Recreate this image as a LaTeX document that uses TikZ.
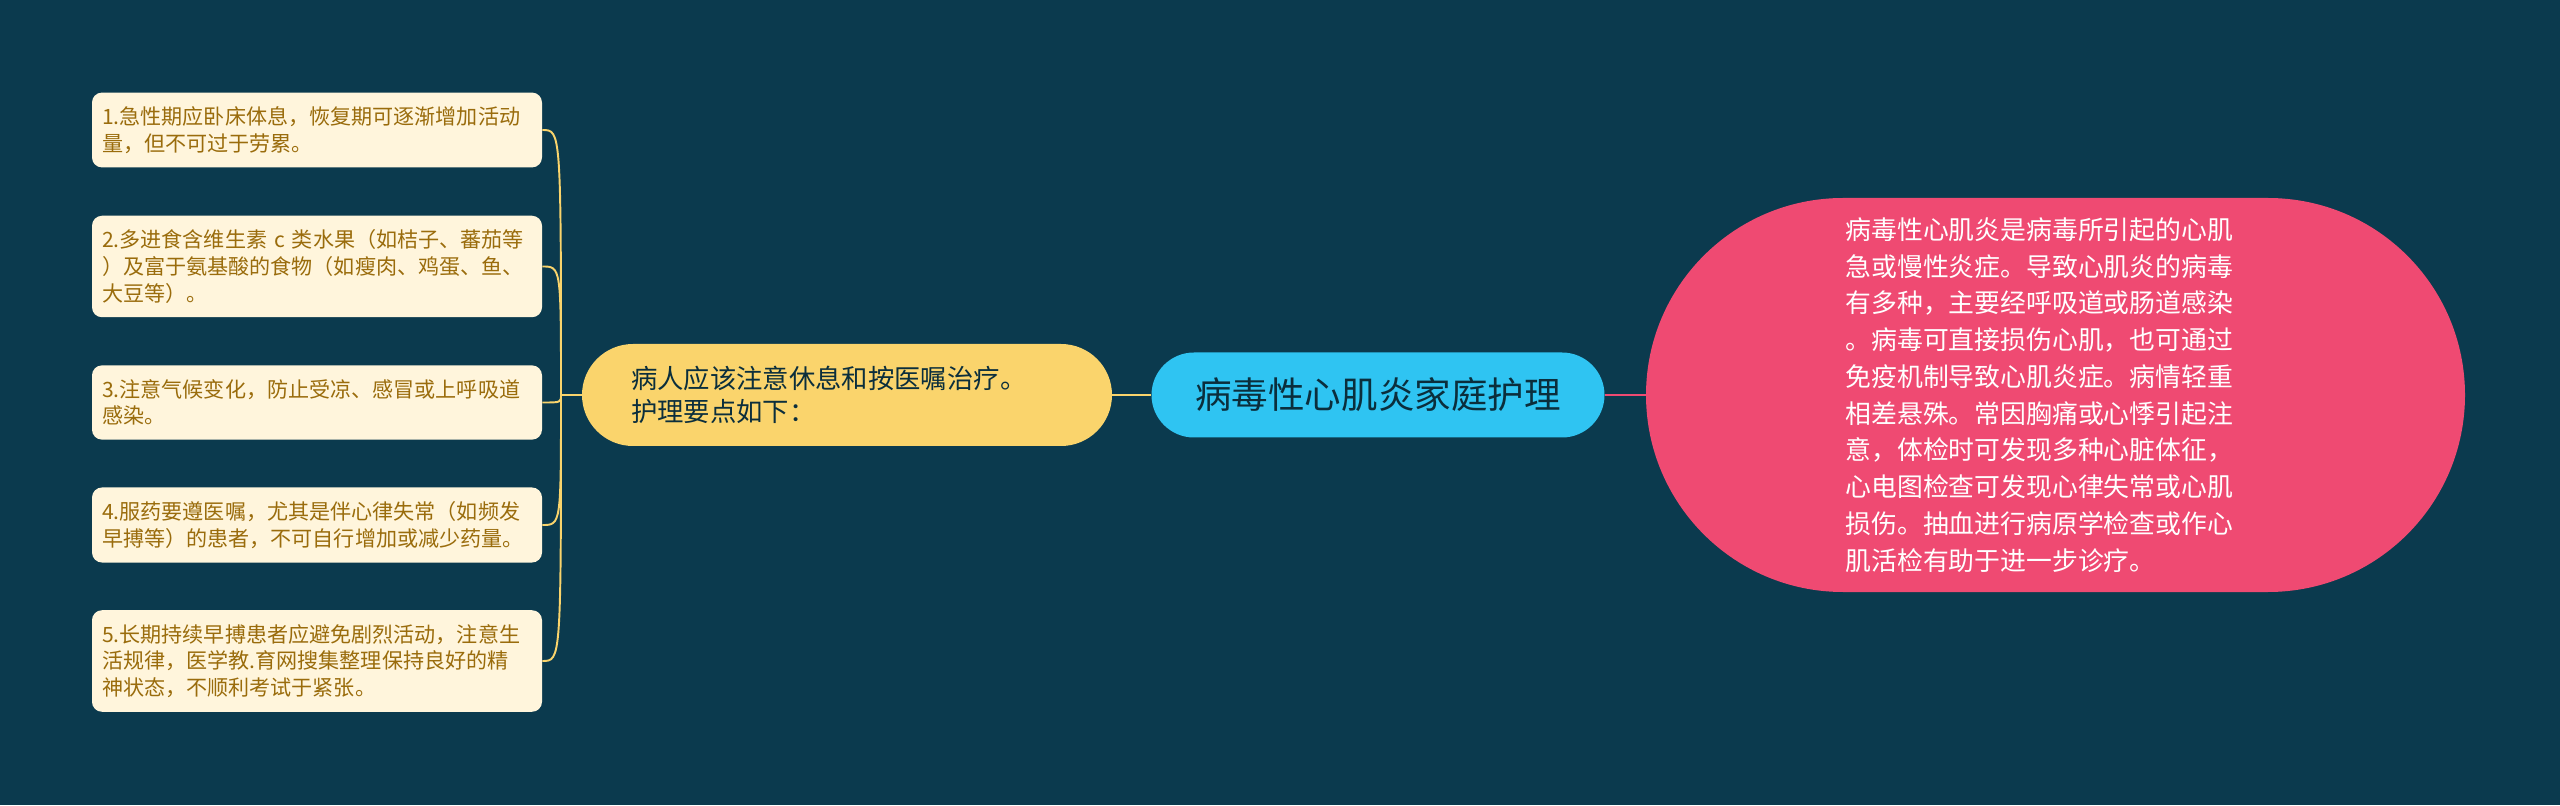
\documentclass[tikz,border=0pt]{standalone}
\usepackage{fontspec}
\setmainfont{Noto Sans CJK SC}
\usepackage{tikz}

\definecolor{bg}{HTML}{0B3A4E}
\definecolor{cream}{HTML}{FFF5DC}
\definecolor{gold}{HTML}{9A6C0C}
\definecolor{sun}{HTML}{FAD46C}
\definecolor{sky}{HTML}{2FC4F2}
\definecolor{rose}{HTML}{EF4A72}
\definecolor{ink}{HTML}{0B2E3C}

\begin{document}
\begin{tikzpicture}[
    tip/.style={fill=cream, text=gold, rounded corners=0.2cm, text width=8.6cm, inner xsep=0.2cm, inner ysep=0.28cm, align=left, font=\fontsize{12}{15.2}\selectfont},
    link/.style={draw=sun, line width=1.1pt}
  ]
    % Background
    \fill[bg] (0,0) rectangle (51.2,16.1);

    % Centre and branches
    \node[fill=sky, text=ink, rounded corners=0.85cm, minimum width=9.06cm, minimum height=1.7cm, font=\fontsize{20.8}{25}\selectfont] (root) at (27.56,8.2) {病毒性心肌炎家庭护理};
    \node[fill=sun, text=ink, rounded corners=1.02cm, minimum width=10.6cm, minimum height=2.04cm, text width=8.64cm, inner xsep=0.98cm, inner ysep=0pt, align=left, font=\fontsize{15}{18.8}\selectfont] (care) at (16.94,8.2) {病人应该注意休息和按医嘱治疗。\\护理要点如下：};
    \node[fill=rose, text=white, rounded corners=3.94cm, minimum width=16.38cm, minimum height=7.88cm, text width=8.4cm, inner sep=0pt, align=left, font=\fontsize{14.7}{20.9}\selectfont] (info) at (41.11,8.2) {病毒性心肌炎是病毒所引起的心肌\\急或慢性炎症。导致心肌炎的病毒\\有多种，主要经呼吸道或肠道感染\\。病毒可直接损伤心肌，也可通过\\免疫机制导致心肌炎症。病情轻重\\相差悬殊。常因胸痛或心悸引起注\\意，体检时可发现多种心脏体征，\\心电图检查可发现心律失常或心肌\\损伤。抽血进行病原学检查或作心\\肌活检有助于进一步诊疗。};

    % Care points
    \node[tip] (tip1) at (6.34,13.5) {1.急性期应卧床体息，恢复期可逐渐增加活动\\量，但不可过于劳累。};
    \node[tip] (tip2) at (6.34,10.77) {2.多进食含维生素 c 类水果（如桔子、蕃茄等\\）及富于氨基酸的食物（如瘦肉、鸡蛋、鱼、\\大豆等）。};
    \node[tip] (tip3) at (6.34,8.05) {3.注意气候变化，防止受凉、感冒或上呼吸道\\感染。};
    \node[tip] (tip4) at (6.34,5.6) {4.服药要遵医嘱，尤其是伴心律失常（如频发\\早搏等）的患者，不可自行增加或减少药量。};
    \node[tip] (tip5) at (6.34,2.88) {5.长期持续早搏患者应避免剧烈活动，注意生\\活规律，医学教.育网搜集整理保持良好的精\\神状态，不顺利考试于紧张。};

    % Links
    \coordinate (hub) at (11.22,8.2);
    \draw[link, line width=1.7pt] (care) -- (root);
    \draw[draw=rose, line width=1.7pt] (root) -- (info);
    \draw[link, line width=1.5pt] (care.west) -- (hub);
    \foreach \i in {1,...,5}
        \draw[link] (hub) .. controls (hub |- tip\i.east) .. (tip\i.east);
\end{tikzpicture}
\end{document}
